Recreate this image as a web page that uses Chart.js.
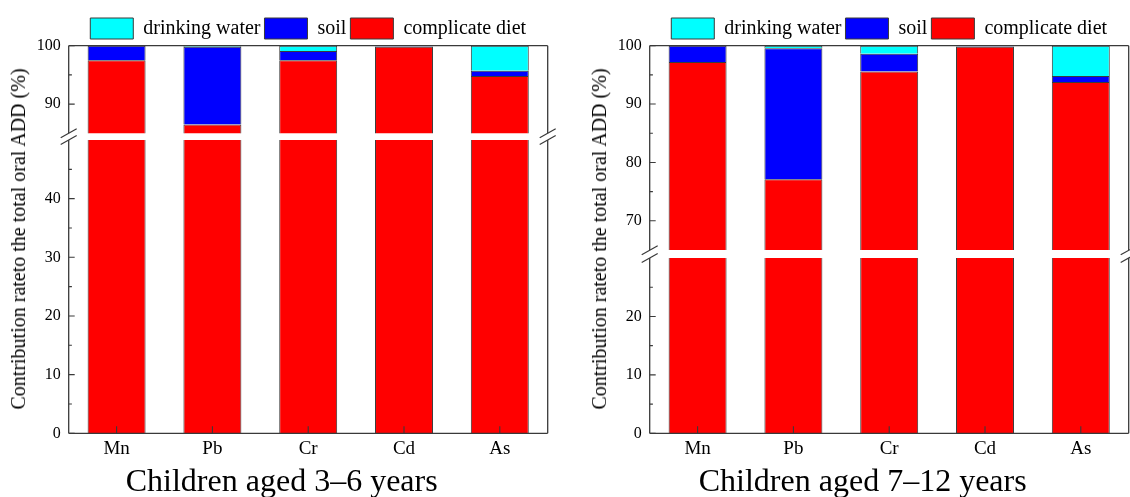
<!DOCTYPE html>
<html>
<head>
<meta charset="utf-8">
<title>Contribution rate to the total oral ADD</title>
<script src="https://cdn.jsdelivr.net/npm/chart.js@4.4.1/dist/chart.umd.min.js"></script>
<style>
  html, body { margin: 0; padding: 0; width: 1130px; height: 497px; overflow: hidden; background: #fff; }
  #stage { position: relative; width: 1130px; height: 497px; }
  .box { position: absolute; }
  .ytitle, .xtitle {
    position: absolute;
    white-space: nowrap;
    font-family: 'Liberation Serif', 'Times New Roman', serif;
    color: #000;
  }
  .ytitle { font-size: 20px; line-height: 20px; transform: translate(-50%, -50%) rotate(-90deg); }
  .xtitle { font-size: 32px; line-height: 32px; transform: translateX(-50%); }
</style>
</head>
<body>
<div id="stage"></div>
<script>
// Categories and series
const elements = ['Mn', 'Pb', 'Cr', 'Cd', 'As'];
const seriesNames = ['complicate diet', 'soil', 'drinking water'];

// Children aged 3–6 years (%)
const dietAged3to6 = [97.5, 86.5, 97.5, 99.8, 94.8];
const soilAged3to6 = [2.5, 13.3, 1.6, 0.1, 0.9];
const waterAged3to6 = [0.0, 0.2, 0.9, 0.1, 4.3];

// Children aged 7–12 years (%)
const dietAged7to12 = [97.2, 77.1, 95.6, 99.8, 93.8];
const soilAged7to12 = [2.8, 22.45, 3.0, 0.1, 1.0];
const waterAged7to12 = [0.0, 0.45, 1.4, 0.1, 5.2];

// Broken y axis: ranges and labelled ticks of each segment
const upperRange3to6 = [85, 100];
const lowerRange3to6 = [0, 50];
const upperTicks3to6 = [90, 100];
const lowerTicks3to6 = [0, 10, 20, 30, 40];

const upperRange7to12 = [65, 100];
const lowerRange7to12 = [0, 30];
const upperTicks7to12 = [70, 80, 90, 100];
const lowerTicks7to12 = [0, 10, 20];

const yTitle = 'Contribution rateto the total oral ADD (%)';

// Styles
const seriesColors = ['#ff0000', '#0000ff', '#00ffff'];
const FONT = "'Liberation Serif', 'Times New Roman', serif";
const LINE = '#3a3a3a';
const PAGE_H = 497;
const PLOT_TOP = 45.7;

Chart.defaults.font.family = FONT;
Chart.defaults.color = '#000';

const panels = [
  {
    title: 'Children aged 3–6 years',
    diet: dietAged3to6, soil: soilAged3to6, water: waterAged3to6,
    upperRange: upperRange3to6, lowerRange: lowerRange3to6,
    upperTicks: upperTicks3to6, lowerTicks: lowerTicks3to6,
    left: 0, width: 565, plotLeft: 68.7, plotRight: 547.7,
    upperBottom: 133.3, lowerTop: 140, plotBottom: 433.3,
  },
  {
    title: 'Children aged 7–12 years',
    diet: dietAged7to12, soil: soilAged7to12, water: waterAged7to12,
    upperRange: upperRange7to12, lowerRange: lowerRange7to12,
    upperTicks: upperTicks7to12, lowerTicks: lowerTicks7to12,
    left: 565, width: 565, plotLeft: 649.7, plotRight: 1128.7,
    upperBottom: 250, lowerTop: 257.7, plotBottom: 433,
  },
];

// Frame, inward ticks and break marks
const axisDecor = {
  id: 'axisDecor',
  afterDatasetsDraw(chart, args, opts) {
    const { ctx, chartArea: a, scales } = chart;
    const y = scales.y;
    const x = scales.x;
    ctx.save();
    ctx.strokeStyle = LINE;
    ctx.lineWidth = 1.3;
    ctx.beginPath();
    ctx.moveTo(a.left, a.top);
    ctx.lineTo(a.left, a.bottom);
    ctx.moveTo(a.right, a.top);
    ctx.lineTo(a.right, a.bottom);
    if (opts.top) {
      ctx.moveTo(a.left, a.top);
      ctx.lineTo(a.right, a.top);
    }
    if (opts.bottom) {
      ctx.moveTo(a.left, a.bottom);
      ctx.lineTo(a.right, a.bottom);
    }
    ctx.stroke();

    // y ticks every 5, majors on the labelled values
    ctx.lineWidth = 1.1;
    ctx.beginPath();
    for (let v = y.min; v <= y.max; v += 5) {
      const isMajor = opts.majors.includes(v);
      if (!isMajor && (v <= y.min || v >= y.max)) continue;
      const py = y.getPixelForValue(v);
      ctx.moveTo(a.left, py);
      ctx.lineTo(a.left + (isMajor ? 6 : 3.2), py);
    }
    // x ticks at the categories
    if (opts.bottom) {
      elements.forEach((_, i) => {
        const px = x.getPixelForValue(i);
        ctx.moveTo(px, a.bottom);
        ctx.lineTo(px, a.bottom - 7);
      });
    }
    ctx.stroke();

    // "//" break marks across the gap
    if (opts.breakGap) {
      ctx.lineWidth = 1.2;
      ctx.beginPath();
      [a.left, a.right].forEach((bx) => {
        [a.top - opts.breakGap, a.top].forEach((by) => {
          ctx.moveTo(bx - 8, by + 4.5);
          ctx.lineTo(bx + 8, by - 4.5);
        });
      });
      ctx.stroke();
    }
    ctx.restore();
  },
};

function buildDatasets(diet, soil, water) {
  return [diet, soil, water].map((data, i) => ({
    label: seriesNames[i],
    data: data,
    backgroundColor: seriesColors[i],
    borderColor: LINE,
    borderWidth: 1,
    barPercentage: 0.605,
    categoryPercentage: 1,
    stack: 'total',
  }));
}

function yScale(range, ticks, axisWidth) {
  return {
    stacked: true,
    min: range[0],
    max: range[1],
    afterBuildTicks: (scale) => {
      scale.ticks = ticks.map((v) => ({ value: v }));
    },
    afterFit: (scale) => {
      // fixed axis width, and no extra room reserved for edge labels
      scale.width = axisWidth;
      scale.paddingTop = 0;
      scale.paddingBottom = 0;
    },
    grid: { display: false, drawTicks: false },
    border: { display: false },
    ticks: { padding: 8, color: '#000', font: { family: FONT, size: 16 } },
  };
}

function addBox(left, top, width, height) {
  const box = document.createElement('div');
  box.className = 'box';
  box.style.left = left + 'px';
  box.style.top = top + 'px';
  box.style.width = width + 'px';
  box.style.height = height + 'px';
  const canvas = document.createElement('canvas');
  box.appendChild(canvas);
  document.getElementById('stage').appendChild(box);
  return canvas;
}

function addText(cls, text, left, top) {
  const el = document.createElement('div');
  el.className = cls;
  el.textContent = text;
  el.style.left = left + 'px';
  el.style.top = top + 'px';
  document.getElementById('stage').appendChild(el);
}

panels.forEach((p) => {
  const axisWidth = p.plotLeft - p.left;
  const padRight = p.left + p.width - p.plotRight;

  // upper segment with the legend
  const upperH = p.upperBottom + 6;
  new Chart(addBox(p.left, 0, p.width, upperH), {
    type: 'bar',
    data: { labels: elements, datasets: buildDatasets(p.diet, p.soil, p.water) },
    options: {
      responsive: true,
      maintainAspectRatio: false,
      animation: false,
      layout: { autoPadding: false, padding: { top: 14, right: padRight, bottom: 6, left: 0 } },
      plugins: {
        legend: {
          position: 'top',
          fullSize: false,
          reverse: true,
          maxHeight: PLOT_TOP - 14,
          labels: {
            boxWidth: 43,
            boxHeight: 21,
            padding: 4,
            color: '#000',
            font: { family: FONT, size: 20 },
          },
        },
        tooltip: { enabled: false },
        axisDecor: { top: true, majors: p.upperTicks },
      },
      scales: {
        x: { display: false, stacked: true },
        y: yScale(p.upperRange, p.upperTicks, axisWidth),
      },
    },
    plugins: [axisDecor],
  });

  // lower segment with the category axis
  const lowerCanvasTop = p.lowerTop - 20;
  new Chart(addBox(p.left, lowerCanvasTop, p.width, PAGE_H - lowerCanvasTop), {
    type: 'bar',
    data: { labels: elements, datasets: buildDatasets(p.diet, p.soil, p.water) },
    options: {
      responsive: true,
      maintainAspectRatio: false,
      animation: false,
      layout: { autoPadding: false, padding: { top: 20, right: padRight, bottom: 0, left: 0 } },
      plugins: {
        legend: { display: false },
        tooltip: { enabled: false },
        axisDecor: {
          bottom: true,
          majors: p.lowerTicks,
          breakGap: p.lowerTop - p.upperBottom,
        },
      },
      scales: {
        x: {
          stacked: true,
          grid: { display: false, drawTicks: false },
          border: { display: false },
          ticks: { padding: 4, color: '#000', font: { family: FONT, size: 19 } },
          afterFit: (scale) => {
            scale.height = PAGE_H - p.plotBottom;
          },
        },
        y: yScale(p.lowerRange, p.lowerTicks, axisWidth),
      },
    },
    plugins: [axisDecor],
  });

  // titles
  addText('ytitle', yTitle, p.plotLeft - 50.5, 238.5);
  addText('xtitle', p.title, (p.plotLeft + p.plotRight) / 2 - 26.5, 464.2);
});
</script>
</body>
</html>
